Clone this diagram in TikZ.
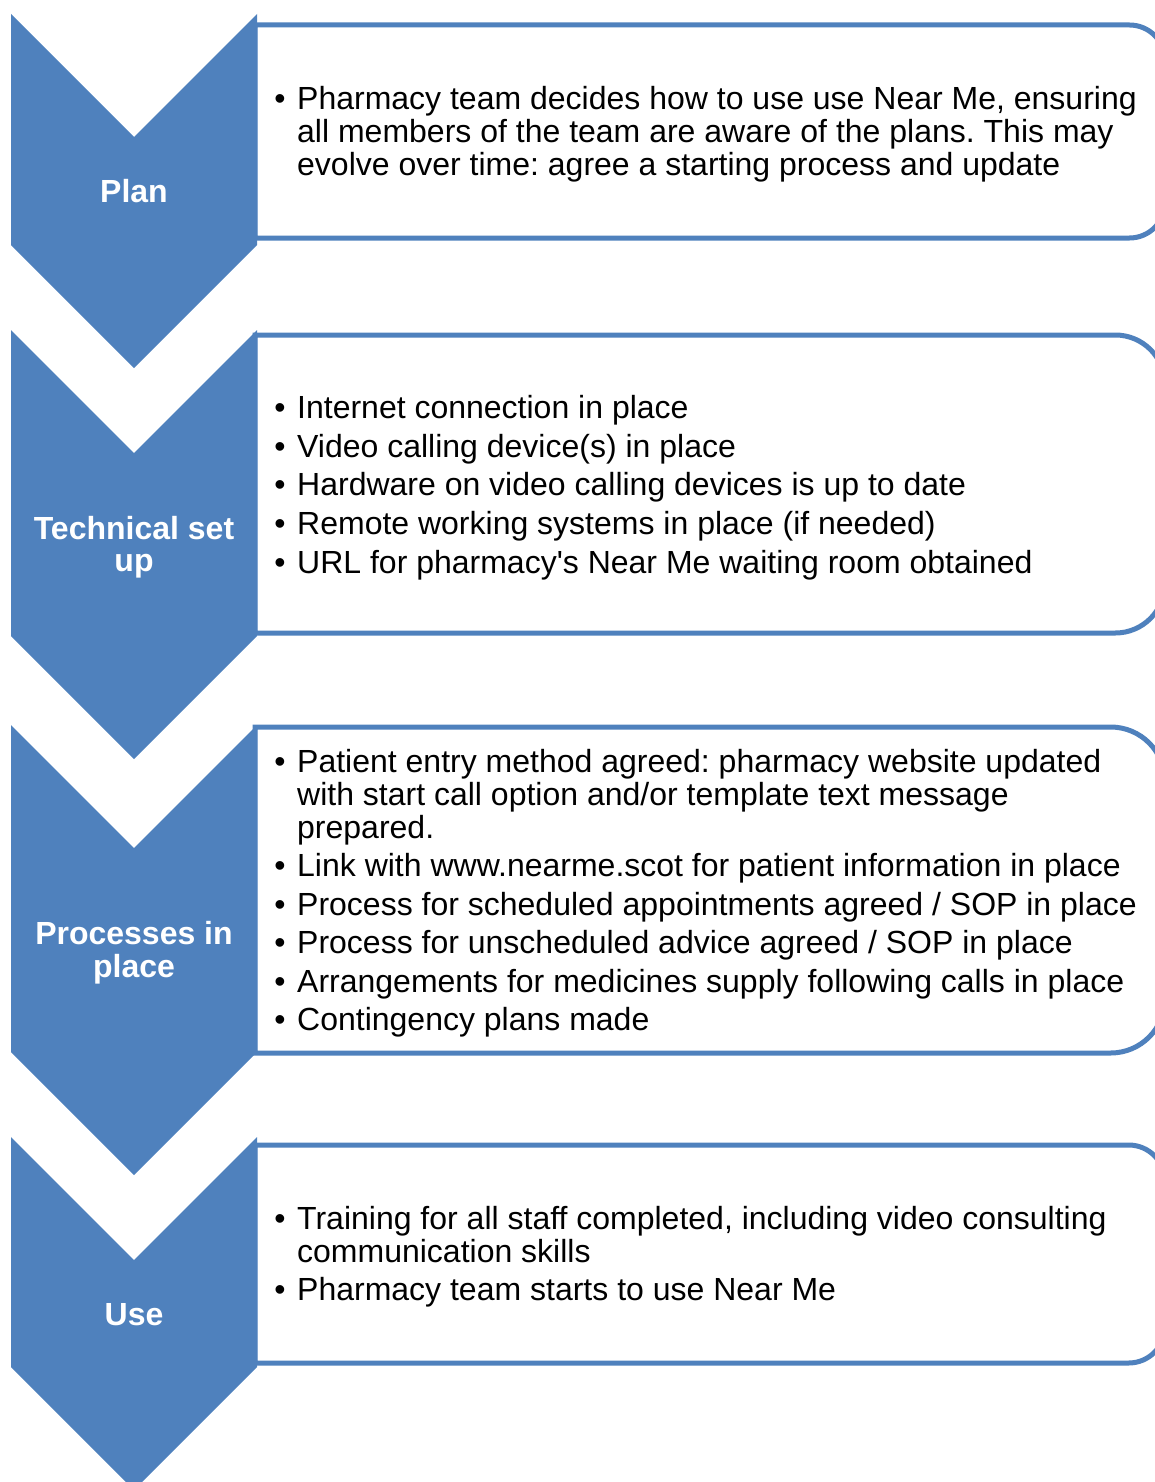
\documentclass[tikz,border=0pt]{standalone}
\usepackage{fontspec}
\setmainfont{Liberation Sans}
\frenchspacing
\definecolor{chev}{HTML}{4F81BD}
\tikzset{
  boxshape/.style={draw=chev, line width=5pt, fill=white},
  chevshape/.style={fill=chev, draw=none},
  body/.style={anchor=base west, inner sep=0pt, font=\fontsize{32}{33}\selectfont\frenchspacing, text=black},
  bul/.style={anchor=base, inner sep=0pt, font=\fontsize{32}{33}\selectfont, text=black},
  head/.style={anchor=base, inner sep=0pt, text=white, font=\fontsize{32}{33}\selectfont\bfseries},
}
\newcommand\flowbox[2]{%
  \pgfmathsetmacro\rr{(#2-#1)/6}%
  \draw[boxshape] (255,-#1) -- ({1165-\rr},-#1) arc[start angle=90,end angle=0,radius=\rr]
    -- (1165,{-#2+\rr}) arc[start angle=0,end angle=-90,radius=\rr] -- (255,-#2) -- cycle;}
\newcommand\chevron[2]{%
  \fill[chevshape] (11,-#1) -- (134,{-#1-123}) -- (257,-#1) -- (257,-#2) -- (134,{-#2-123}) -- (11,-#2) -- cycle;}
\begin{document}
\begin{tikzpicture}[x=1pt,y=1pt]
\useasboundingbox (0,0) rectangle (1155,-1482);
\clip (0,0) rectangle (1155,-1482);
% boxes
\flowbox{25}{238}
\flowbox{335}{633}
\flowbox{727}{1053}
\flowbox{1145}{1363}
% chevrons
\chevron{14}{245}
\chevron{330}{636}
\chevron{725}{1052}
\chevron{1137}{1367}
% headings
\node[head] (h1) at (134,-202) {Plan};
\node[head] (h2a) at (134,-539) {Technical set};
\node[head] (h2b) at (134,-571) {up};
\node[head] (h3a) at (134,-944) {Processes in};
\node[head] (h3b) at (134,-977) {place};
\node[head] (h4) at (134,-1325) {Use};
% box 1
\node[bul] (u11) at (280,-110) {•};
\node[body] (t11) at (297,-110) {Pharmacy team decides how to use use Near Me, ensuring};
\node[body] (t12) at (297,-143) {all members of the team are aware of the plans. This may};
\node[body] (t13) at (297,-176) {evolve over time: agree a starting process and update};
% box 2
\node[bul] (u21) at (280,-418) {•};
\node[body] (t21) at (297,-418) {Internet connection in place};
\node[bul] (u22) at (280,-457) {•};
\node[body] (t22) at (297,-457) {Video calling device(s) in place};
\node[bul] (u23) at (280,-495) {•};
\node[body] (t23) at (297,-495) {Hardware on video calling devices is up to date};
\node[bul] (u24) at (280,-534) {•};
\node[body] (t24) at (297,-534) {Remote working systems in place (if needed)};
\node[bul] (u25) at (280,-573) {•};
\node[body] (t25) at (297,-573) {URL for pharmacy\textquotesingle s Near Me waiting room obtained};
% box 3
\node[bul] (u31) at (280,-772) {•};
\node[body] (t31) at (297,-772) {Patient entry method agreed: pharmacy website updated};
\node[body] (t32) at (297,-805) {with start call option and/or template text message};
\node[body] (t33) at (297,-838) {prepared.};
\node[bul] (u34) at (280,-876) {•};
\node[body] (t34) at (297,-876) {Link with www.nearme.scot for patient information in place};
\node[bul] (u35) at (280,-915) {•};
\node[body] (t35) at (297,-915) {Process for scheduled appointments agreed / SOP in place};
\node[bul] (u36) at (280,-953) {•};
\node[body] (t36) at (297,-953) {Process for unscheduled advice agreed / SOP in place};
\node[bul] (u37) at (280,-992) {•};
\node[body] (t37) at (297,-992) {Arrangements for medicines supply following calls in place};
\node[bul] (u38) at (280,-1030) {•};
\node[body] (t38) at (297,-1030) {Contingency plans made};
% box 4
\node[bul] (u41) at (280,-1229) {•};
\node[body] (t41) at (297,-1229) {Training for all staff completed, including video consulting};
\node[body] (t42) at (297,-1262) {communication skills};
\node[bul] (u43) at (280,-1300) {•};
\node[body] (t43) at (297,-1300) {Pharmacy team starts to use Near Me};
\end{tikzpicture}
\end{document}
